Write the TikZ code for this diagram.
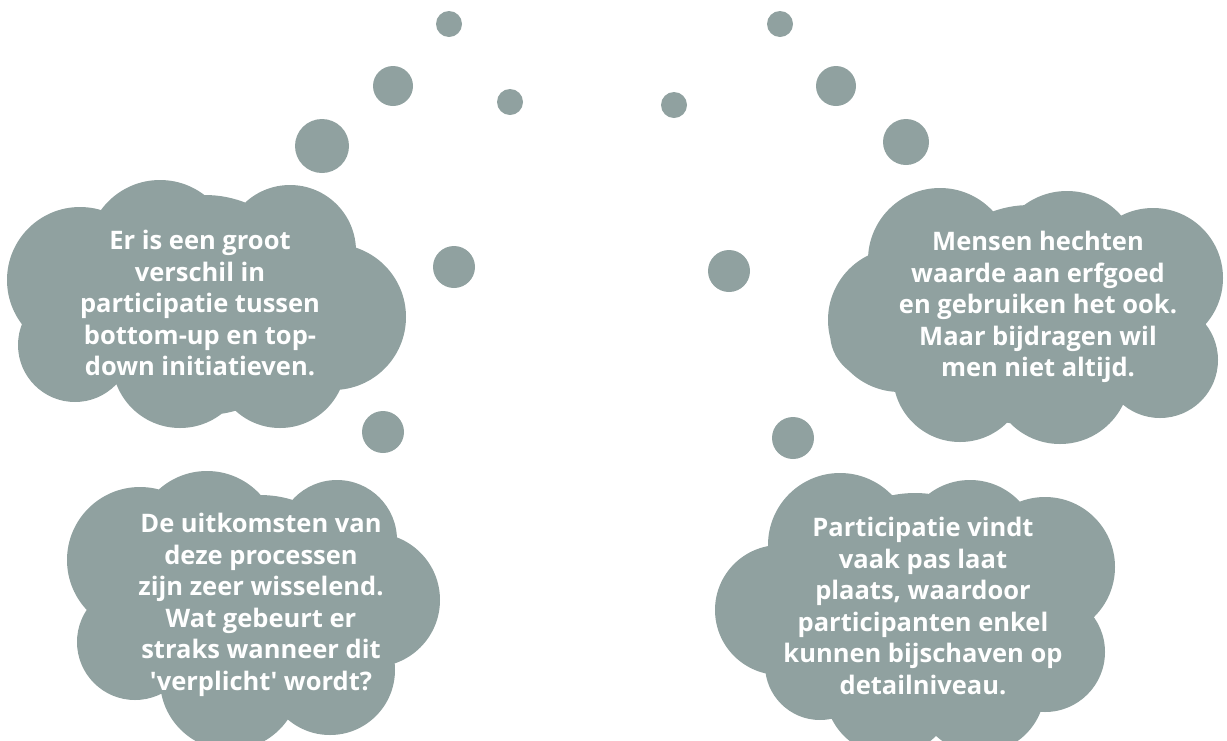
\documentclass[tikz,border=0pt]{standalone}
\usepackage{fontspec}
\setmainfont{Open Sans}
\definecolor{cloudgray}{RGB}{144,161,160}
\newcommand\cpuff[3]{(#1,#2) circle[radius=#3pt]}
\tikzset{
  cloudfill/.style={fill=cloudgray, draw=none},
  dot/.style={circle, fill=cloudgray, draw=none, inner sep=0pt},
  txt/.style={text=white, align=center, font=\fontsize{25.5}{31.5}\selectfont\bfseries}
}
\begin{document}
\begin{tikzpicture}[x=1pt,y=-1pt]
\useasboundingbox (0,0) rectangle (1227,740);
% cloud 1 (top left)
\fill[cloudfill] \cpuff{80}{280}{73} \cpuff{160}{253}{73} \cpuff{290}{251}{66}
  \cpuff{333}{317}{73} \cpuff{180}{360}{68} \cpuff{280}{362}{66} \cpuff{75}{345}{57}
  \cpuff{205}{305}{110};
% cloud 2 (top right)
\fill[cloudfill] \cpuff{900}{320}{72} \cpuff{940}{260}{72} \cpuff{1067}{263}{72}
  \cpuff{1153}{278}{70} \cpuff{1160}{360}{58} \cpuff{960}{375}{67} \cpuff{1060}{374}{70}
  \cpuff{877}{333}{47} \cpuff{1030}{315}{110};
% cloud 3 (bottom left)
\fill[cloudfill] \cpuff{207}{543}{72} \cpuff{337}{540}{60} \cpuff{373}{600}{67}
  \cpuff{140}{560}{73} \cpuff{135}{642}{58} \cpuff{230}{680}{70} \cpuff{330}{670}{65}
  \cpuff{260}{605}{110};
% cloud 4 (bottom right)
\fill[cloudfill] \cpuff{840}{545}{72} \cpuff{970}{548}{68} \cpuff{1045}{567}{70}
  \cpuff{1045}{652}{60} \cpuff{780}{610}{65} \cpuff{820}{665}{55} \cpuff{890}{690}{65}
  \cpuff{980}{688}{65} \cpuff{915}{608}{115};
% texts
\node[txt] (t1) at (200,303) {Er is een groot\\verschil in\\participatie tussen\\bottom-up en top-\\down initiatieven.};
\node[txt] (t2) at (1038,307) {Mensen hechten\\waarde aan erfgoed\\en gebruiken het ook.\\Maar bijdragen wil\\men niet altijd.};
\node[txt] (t3) at (261,605) {De uitkomsten van\\deze processen\\zijn zeer wisselend.\\Wat gebeurt er\\straks wanneer dit\\\textquotesingle verplicht\textquotesingle{} wordt?};
\node[txt] (t4) at (923,606) {Participatie vindt\\vaak pas laat\\plaats, waardoor\\participanten enkel\\kunnen bijschaven op\\detailniveau.};
% thought dots left
\node[dot, minimum size=26] (l1) at (449,24) {};
\node[dot, minimum size=26] (l2) at (510,102) {};
\node[dot, minimum size=40] (l3) at (393,86) {};
\node[dot, minimum size=54] (l4) at (322,146) {};
\node[dot, minimum size=42] (l5) at (454,267) {};
\node[dot, minimum size=42] (l6) at (383,432) {};
% thought dots right
\node[dot, minimum size=26] (r1) at (780,24) {};
\node[dot, minimum size=26] (r2) at (674,105) {};
\node[dot, minimum size=40] (r3) at (836,86) {};
\node[dot, minimum size=46] (r4) at (906,142) {};
\node[dot, minimum size=42] (r5) at (729,271) {};
\node[dot, minimum size=42] (r6) at (793,438) {};
\end{tikzpicture}
\end{document}
